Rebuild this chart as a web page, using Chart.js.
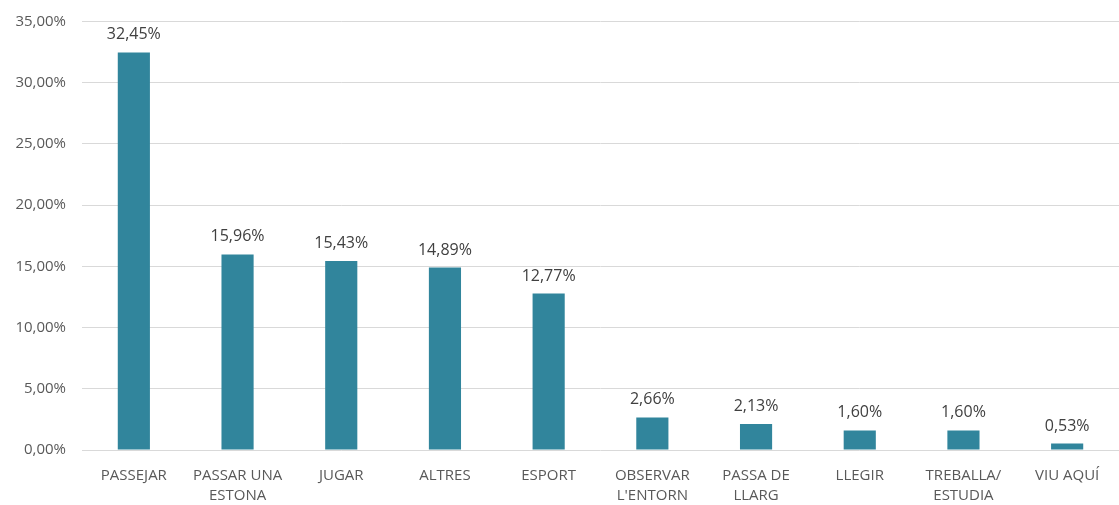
<!DOCTYPE html>
<html>
<head>
<meta charset="utf-8">
<script src="https://cdn.jsdelivr.net/npm/chart.js@4.4.0/dist/chart.umd.min.js"></script>
<style>
  html, body { margin: 0; padding: 0; background: #fff; }
  #wrap { width: 1119px; height: 505px; }
</style>
</head>
<body>
<div id="wrap"><canvas id="chart"></canvas></div>
<script>
// Categories (multi-line labels as arrays)
const categories = [
    'PASSEJAR',
    ['PASSAR UNA', 'ESTONA'],
    'JUGAR',
    'ALTRES',
    'ESPORT',
    ['OBSERVAR', "L'ENTORN"],
    ['PASSA DE', 'LLARG'],
    'LLEGIR',
    ['TREBALLA/', 'ESTUDIA'],
    'VIU AQUÍ'
];

// Percentages
const values = [32.45, 15.96, 15.43, 14.89, 12.77, 2.66, 2.13, 1.60, 1.60, 0.53];

// y axis tick range
const yMin = 0;
const yMax = 35;
const yStep = 5;

const BAR_COLOR = '#31859C';
const FONT = 'Open Sans';

// format a number as "12,34%"
function pct(v) {
    return v.toFixed(2).replace('.', ',') + '%';
}

// draws the value labels above each bar
const valueLabels = {
    id: 'valueLabels',
    afterDatasetsDraw(chart) {
        const ctx = chart.ctx;
        const meta = chart.getDatasetMeta(0);
        ctx.save();
        ctx.font = '16px "' + FONT + '"';
        ctx.fillStyle = '#404040';
        ctx.textAlign = 'center';
        ctx.textBaseline = 'alphabetic';
        meta.data.forEach((bar, i) => {
            ctx.fillText(pct(values[i]), bar.x, bar.y - 13);
        });
        ctx.restore();
    }
};

new Chart(document.getElementById('chart'), {
    type: 'bar',
    data: {
        labels: categories,
        datasets: [{
            data: values,
            backgroundColor: BAR_COLOR,
            barPercentage: 0.31,
            categoryPercentage: 1.0
        }]
    },
    options: {
        responsive: true,
        maintainAspectRatio: false,
        animation: false,
        layout: { padding: { top: 0, right: 0, left: 0, bottom: 0 } },
        plugins: {
            legend: { display: false },
            tooltip: { enabled: false }
        },
        scales: {
            x: {
                grid: { display: false },
                border: { display: false },
                ticks: {
                    color: '#595959',
                    font: { family: FONT, size: 15, lineHeight: 1.3 },
                    padding: 8,
                    maxRotation: 0,
                    autoSkip: false
                },
                afterFit(scale) { scale.height = 55; }
            },
            y: {
                min: yMin,
                max: yMax,
                grid: { color: '#d9d9d9', drawTicks: false },
                border: { display: false },
                ticks: {
                    stepSize: yStep,
                    color: '#595959',
                    // small lineHeight only shrinks the top overflow the scale reserves
                    font: { family: FONT, size: 15, lineHeight: 0.7 },
                    padding: 16,
                    callback: v => pct(v)
                },
                afterFit(scale) { scale.width = 82; }
            }
        }
    },
    plugins: [valueLabels]
});
</script>
</body>
</html>
